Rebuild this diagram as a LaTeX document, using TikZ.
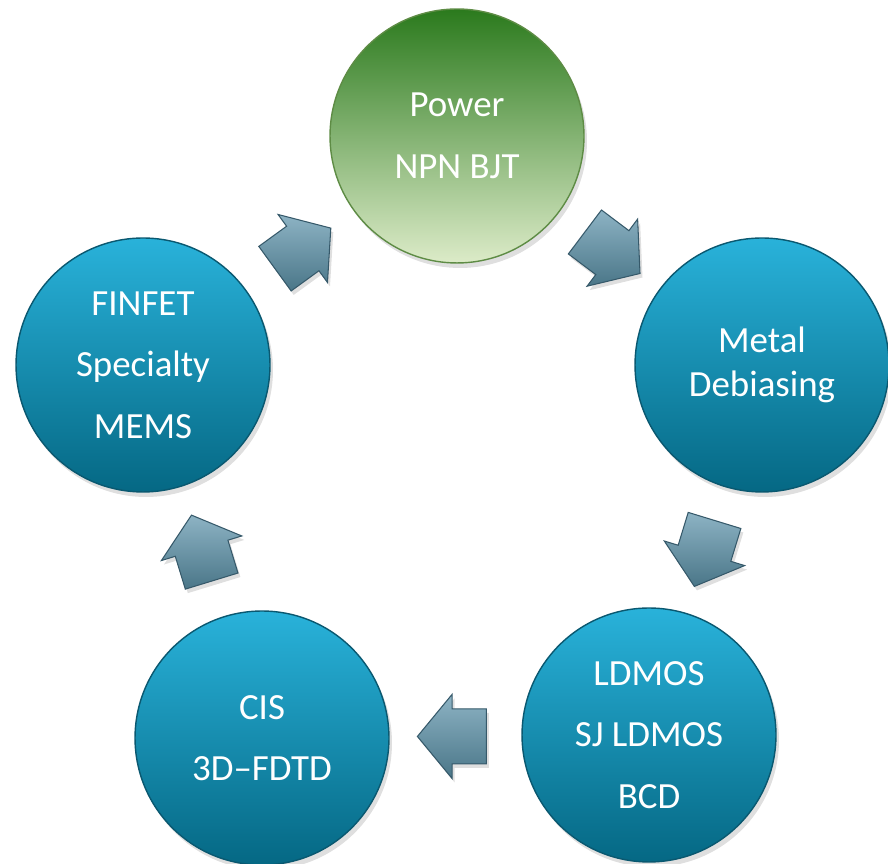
\documentclass[tikz,border=0pt]{standalone}
\usepackage{fontspec}
\setmainfont{Carlito}
\usetikzlibrary{calc, shapes.arrows, shadows}
\definecolor{bluetop}{HTML}{29B2DA}
\definecolor{bluebot}{HTML}{056884}
\definecolor{bluerim}{HTML}{0A5870}
\definecolor{greentop}{HTML}{2B7A1D}
\definecolor{greenbot}{HTML}{DCEBC8}
\definecolor{greenrim}{HTML}{5E8C45}
\definecolor{arrtop}{HTML}{8DB3C4}
\definecolor{arrbot}{HTML}{4A7688}
\definecolor{arrrim}{HTML}{36596A}
\tikzstyle{ball} = [circle, minimum size=5.08cm, inner sep=0pt, text=white, align=center,
  font=\fontsize{21}{35}\selectfont, draw=bluerim, line width=0.8pt,
  top color=bluetop, bottom color=bluebot,
  drop shadow={shadow xshift=0.06cm, shadow yshift=-0.1cm, opacity=0.25}]
\tikzstyle{greenball} = [ball, draw=greenrim, top color=greentop, bottom color=greenbot]
\tikzstyle{blk} = [single arrow, inner xsep=0pt, inner ysep=0.54cm, minimum height=1.38cm,
  single arrow head extend=0.29cm, single arrow tip angle=101,
  draw=arrrim, line width=0.6pt, top color=arrtop, bottom color=arrbot,
  drop shadow={shadow xshift=0.05cm, shadow yshift=-0.08cm, opacity=0.25}]

\begin{document}
\begin{tikzpicture}[x=0.02cm, y=0.02cm]
\useasboundingbox (0,0) rectangle (888,864);

\node (power) [greenball] at (457,728) {Power\\NPN BJT};
\node (metal) [ball, font=\fontsize{21}{25}\selectfont] at (762,499) {Metal\\Debiasing};
\node (ldmos) [ball] at (649,129) {LDMOS\\SJ LDMOS\\BCD};
\node (cis) [ball] at (262,126) {CIS\\3D--FDTD};
\node (finfet) [ball] at (143,499) {FINFET\\Specialty\\MEMS};

\node (a1) [blk, rotate=36] at ($(finfet)!0.48!(power)$) {};
\node (a2) [blk, rotate=-37] at ($(power)!0.48!(metal)$) {};
\node (a3) [blk, rotate=-107] at ($(metal)!0.48!(ldmos)$) {};
\node (a4) [blk, rotate=180] at ($(ldmos)!0.48!(cis)$) {};
\node (a5) [blk, rotate=107] at ($(cis)!0.48!(finfet)$) {};

\end{tikzpicture}
\end{document}
